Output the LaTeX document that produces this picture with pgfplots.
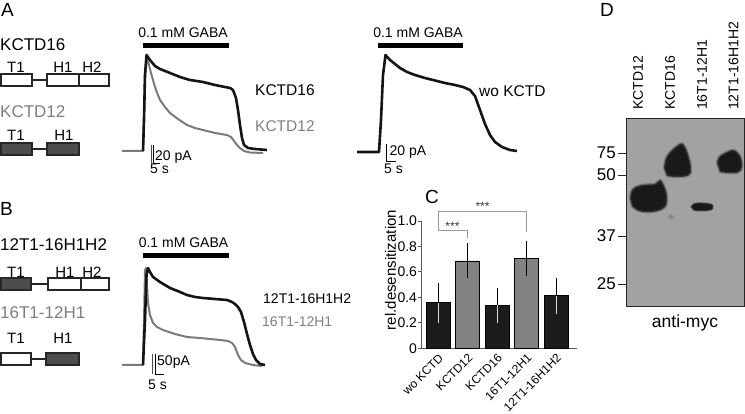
\documentclass[border=0pt]{standalone}
\usepackage{pgfplots}
\pgfplotsset{compat=1.18}
\usepackage{fontspec}
\setmainfont{Liberation Sans}
\newcommand{\fs}[1]{\fontsize{#1}{#1}\selectfont}
\definecolor{tgray}{HTML}{7F7F7F}
\definecolor{trgray}{HTML}{7A7A7A}
\definecolor{dom}{HTML}{4D4D4D}
\definecolor{blot}{HTML}{A2A2A2}
\definecolor{barblack}{HTML}{1C1C1C}
\definecolor{bargray}{HTML}{828282}
\pgfplotsset{trace/.style={scale only axis, hide axis, clip=false, anchor=south west}}
\begin{document}
\begin{tikzpicture}
\useasboundingbox (0pt,0pt) rectangle (745pt,-414pt);
% panel letters
\node[font=\fs{19}] at (7.5pt,-9.5pt) {A};
\node[font=\fs{19}] at (6.5pt,-209pt) {B};
\node[font=\fs{19}] at (432pt,-197pt) {C};
\node[font=\fs{19}] at (607pt,-10pt) {D};
% left construct names
\node[font=\fs{17}, anchor=west, inner sep=0pt] at (0pt,-45pt) {KCTD16};
\node[font=\fs{17}, anchor=west, inner sep=0pt, text=tgray] at (0pt,-112pt) {KCTD12};
\node[font=\fs{17}, anchor=west, inner sep=0pt] at (0pt,-245pt) {12T1-16H1H2};
\node[font=\fs{17}, anchor=west, inner sep=0pt, text=tgray] at (0pt,-313pt) {16T1-12H1};
% domain schematics
\begin{scope}[line width=1.1pt, draw=black!85]
% KCTD16
\draw (32pt,-80pt) -- (47pt,-80pt);
\draw[fill=white] (1pt,-74pt) rectangle (32pt,-86pt);
\draw[fill=white] (47pt,-74pt) rectangle (79pt,-86pt);
\draw[fill=white] (79pt,-74pt) rectangle (109pt,-86pt);
% KCTD12
\draw (32pt,-149pt) -- (47pt,-149pt);
\draw[fill=dom] (1pt,-143pt) rectangle (32pt,-155pt);
\draw[fill=dom] (47pt,-143pt) rectangle (79pt,-155pt);
% 12T1-16H1H2
\draw (31pt,-284pt) -- (48pt,-284pt);
\draw[fill=dom] (1pt,-278pt) rectangle (31pt,-290pt);
\draw[fill=white] (48pt,-278pt) rectangle (81pt,-290pt);
\draw[fill=white] (81pt,-278pt) rectangle (109pt,-290pt);
% 16T1-12H1
\draw (31pt,-359pt) -- (46pt,-359pt);
\draw[fill=white] (1pt,-353pt) rectangle (31pt,-365pt);
\draw[fill=dom] (46pt,-353pt) rectangle (79pt,-365pt);
\end{scope}
\begin{scope}[font=\fs{15}]
\node at (16pt,-67pt) {T1}; \node at (63pt,-67pt) {H1}; \node at (92pt,-67pt) {H2};
\node at (16pt,-135pt) {T1}; \node at (64pt,-135pt) {H1};
\node at (16pt,-272pt) {T1}; \node at (65pt,-272pt) {H1}; \node at (92pt,-272pt) {H2};
\node at (16pt,-338pt) {T1}; \node at (63pt,-338pt) {H1};
\end{scope}
% GABA bars and labels
\fill (143pt,-43.5pt) rectangle (229pt,-48.3pt);
\fill (378pt,-43.5pt) rectangle (463pt,-48.3pt);
\fill (143pt,-253.5pt) rectangle (229pt,-258.5pt);
\node[font=\fs{14}] at (183pt,-33pt) {0.1 mM GABA};
\node[font=\fs{14}] at (418pt,-33pt) {0.1 mM GABA};
\node[font=\fs{14}] at (183.5pt,-243pt) {0.1 mM GABA};
% scale bars
\begin{scope}[line width=0.9pt]
\draw[black!70] (151.5pt,-145pt) -- (151.5pt,-163pt);
\draw (153.5pt,-145pt) -- (153.5pt,-163pt) -- (160pt,-163pt);
\draw (386.7pt,-144pt) -- (386.7pt,-161.5pt) -- (396pt,-161.5pt);
\draw[black!70] (152.7pt,-354pt) -- (152.7pt,-374pt);
\draw (155pt,-354pt) -- (155pt,-374pt) -- (164pt,-374pt);
\end{scope}
\node[font=\fs{14}, anchor=west, inner sep=0pt] at (155pt,-157pt) {20 pA};
\node[font=\fs{14}, anchor=west, inner sep=0pt] at (150pt,-168.5pt) {5 s};
\node[font=\fs{14}, anchor=west, inner sep=0pt] at (389.5pt,-152pt) {20 pA};
\node[font=\fs{14}, anchor=west, inner sep=0pt] at (384pt,-168.5pt) {5 s};
\node[font=\fs{14}, anchor=west, inner sep=0pt] at (157pt,-362pt) {50pA};
\node[font=\fs{14}, anchor=west, inner sep=0pt] at (148pt,-384.5pt) {5 s};
% trace labels
\node[font=\fs{15.5}, anchor=west, inner sep=0pt] at (255pt,-90pt) {KCTD16};
\node[font=\fs{15.5}, anchor=west, inner sep=0pt, text=tgray] at (255pt,-126pt) {KCTD12};
\node[font=\fs{15.5}, anchor=west, inner sep=0pt] at (479pt,-91pt) {wo KCTD};
\node[font=\fs{14}, anchor=west, inner sep=0pt] at (263pt,-299pt) {12T1-16H1H2};
\node[font=\fs{14}, anchor=west, inner sep=0pt, text=tgray] at (262pt,-322pt) {16T1-12H1};

% ---------- trace A1 ----------
\begin{axis}[trace, at={(118pt,-172pt)}, width=152pt, height=142pt,
  xmin=-25, xmax=127, ymin=-20, ymax=122]
\addplot[trgray, line width=2pt, line join=round] coordinates {
(-21,1)(0,1)(1,37)(2,77)(4,95)(6,87)(8,79)(10,72)(13,62)(17,52)(22,45)(27,39)
(35,33)(44,27)(52,24)(60,22)(72,19)(84,17)(88,15)(91,11)(94,7)(97,4)(101,1)
(107,-0.5)(120,-1)};
\addplot[black!92, line width=2.6pt, line join=round] coordinates {
(0,1)(1,32)(2,77)(3.5,97)(7,92)(12,86)(17,83)(27,79)(37,75)(47,72)(60,70)
(72,67)(82,65)(87,64)(90,62)(93,54)(95,42)(97,27)(99,14)(101,7)(105,4)(112,3)(124,2)};
\end{axis}
% ---------- trace A2 ----------
\begin{axis}[trace, at={(355pt,-172pt)}, width=165pt, height=142pt,
  xmin=-24, xmax=141, ymin=-20, ymax=122]
\addplot[black!92, line width=2.6pt, line join=round] coordinates {
(-22,0)(0,0)(2,32)(4,77)(6.5,97)(11,92)(16,88)(21,84)(28,80)(36,77)(46,74)
(54,72)(66,69)(76,67)(84,65)(91,62)(96,56)(101,42)(106,28)(111,17)(116,10)
(123,5)(131,2)(138,1)};
\end{axis}
% ---------- trace B ----------
\begin{axis}[trace, at={(118pt,-380pt)}, width=152pt, height=144pt,
  xmin=-25, xmax=127, ymin=-15, ymax=129]
\addplot[trgray, line width=2pt, line join=round] coordinates {
(-21,0)(0,0)(1,45)(2,95)(3,97)(4,80)(5,62)(7,50)(10,42)(14,38)(20,35)(32,31)
(44,28)(57,27)(77,25)(85,24)(89,22)(92,18)(95,10)(98,5)(102,2)(110,0)(119,-1)};
\addplot[black!92, line width=2.6pt, line join=round] coordinates {
(0,0)(2,45)(3.5,90)(5,97)(7,93)(10,88)(17,83)(27,77)(37,73)(44,70)(52,68)
(60,67)(72,66)(84,65)(89,63)(92,61)(95,58)(98,53)(101,43)(104,31)(107,20)
(110,11)(113,5)(117,1)(122,0)};
\end{axis}

% ---------- panel C ----------
\node[font=\fs{15}, rotate=90] at (390.5pt,-270pt) {rel.desensitization};
\begin{axis}[at={(421pt,-348.3pt)}, anchor=south west, scale only axis,
  width=156pt, height=127.3pt, xmin=-0.576, xmax=4.71, ymin=0, ymax=1,
  clip=false, axis x line*=bottom, axis y line*=left,
  axis line style={-, draw=black!65, line width=1pt},
  xtick={0,1,2,3,4},
  xticklabels={wo KCTD,KCTD12,KCTD16,16T1-12H1,12T1-16H1H2},
  major x tick style={draw=none},
  ytick={0,0.2,0.4,0.6,0.8,1}, yticklabels={0,0.2,0.4,0.6,0.8,1.0},
  tick align=outside, major tick length=3pt,
  y tick style={draw=black!65, line width=0.9pt},
  /pgf/number format/assume math mode=true,
  yticklabel style={font=\fs{14}, inner sep=0.8pt},
  xticklabel style={font=\fs{12}, rotate=45, anchor=north east, inner sep=1pt},
]
\addplot[ybar, bar shift=0pt, bar width=24pt, fill=barblack, draw=black, line width=0.8pt]
  coordinates {(0,0.358)(2,0.338)(4,0.413)};
\addplot[ybar, bar shift=0pt, bar width=24pt, fill=bargray, draw=black, line width=0.8pt]
  coordinates {(1,0.686)(3,0.704)};
% upper halves of error bars
\addplot[draw=none, forget plot, error bars/.cd, y dir=plus, y explicit,
  error bar style={draw=black, line width=1pt},
  error mark options={draw=black, line width=1pt, mark size=2.5pt}]
  coordinates {(0,0.358)+-(0,0.132)(1,0.686)+-(0,0.12)(2,0.338)+-(0,0.114)
               (3,0.704)+-(0,0.116)(4,0.413)+-(0,0.116)};
% lower halves inside dark bars
\addplot[draw=none, forget plot, error bars/.cd, y dir=minus, y explicit,
  error bar style={draw=white!85!black, line width=1pt},
  error mark options={draw=white!85!black, line width=1pt, mark size=2.5pt}]
  coordinates {(0,0.358)+-(0,0.141)(2,0.338)+-(0,0.121)(4,0.413)+-(0,0.12)};
% lower halves inside grey bars
\addplot[draw=none, forget plot, error bars/.cd, y dir=minus, y explicit,
  error bar style={draw=black, line width=1pt},
  error mark options={draw=black, line width=1pt, mark size=2.5pt}]
  coordinates {(1,0.686)+-(0,0.118)(3,0.704)+-(0,0.12)};
\draw[black!40, line width=0.8pt] (axis cs:3,0.916) -- (axis cs:3,1.073) -- (axis cs:0,1.073)
  -- (axis cs:0,0.924) -- (axis cs:1,0.924) -- (axis cs:1,0.864);
\node[font=\fs{12}, text=black!80] at (axis cs:0.49,0.955) {***};
\node[font=\fs{12}, text=black!80] at (axis cs:1.51,1.115) {***};
\end{axis}

% ---------- panel D ----------
\begin{axis}[at={(626pt,-306pt)}, anchor=south west, scale only axis,
  width=118pt, height=188pt, xmin=626, xmax=744, ymin=118, ymax=306,
  y dir=reverse, xtick=\empty, ytick={153,175,236,284},
  yticklabels={75,50,37,25}, ytick pos=left, tick align=outside,
  major tick length=8pt, y tick style={draw=black!85, line width=1pt},
  axis line style={draw=black!85, line width=1pt},
  axis background/.style={fill=blot},
  /pgf/number format/assume math mode=true,
  yticklabel style={font=\fs{17}, inner sep=2pt},
  clip=true]
\addplot[fill=black!55, draw=none, smooth, opacity=0.5] coordinates {
(668,217)(671,214)(674,217)(671,220)} -- cycle;
\addplot[fill=black!90, draw=black!70, line width=2.5pt, draw opacity=0.45, smooth, tension=0.7] coordinates {
(630,198)(632,190)(638,186)(647,184.5)(655,184)(660,180)(663,184)(666,191)(667,200)
(664,208)(652,212)(639,211)(632,206)} -- cycle;
\addplot[fill=black!90, draw=black!70, line width=2.5pt, draw opacity=0.45, smooth, tension=0.7] coordinates {
(664,168)(666,158)(671,151)(677,146)(682,143.5)(686,149)(689,158)(691,168)(689,175)
(678,177)(667,176)} -- cycle;
\addplot[fill=black!90, draw=black!70, line width=1.5pt, draw opacity=0.45, smooth, tension=0.7] coordinates {
(691,207)(694,203.5)(702,203)(711,204)(713,207)(711,210)(702,211)(694,210.5)} -- cycle;
\addplot[fill=black!90, draw=black!70, line width=2.5pt, draw opacity=0.45, smooth, tension=0.7] coordinates {
(717,163)(719,157)(725,153)(732,150)(737,152)(741,158)(742,167)(738,172.5)(728,173)(720,172)} -- cycle;
\end{axis}
\node[font=\fs{14}, rotate=90, anchor=west, inner sep=0pt] at (638pt,-110pt) {KCTD12};
\node[font=\fs{14}, rotate=90, anchor=west, inner sep=0pt] at (670pt,-110pt) {KCTD16};
\node[font=\fs{14}, rotate=90, anchor=west, inner sep=0pt] at (702pt,-110pt) {16T1-12H1};
\node[font=\fs{14}, rotate=90, anchor=west, inner sep=0pt] at (733.5pt,-110pt) {12T1-16H1H2};
\node[font=\fs{17.5}] at (685pt,-323pt) {anti-myc};
\end{tikzpicture}
\end{document}
